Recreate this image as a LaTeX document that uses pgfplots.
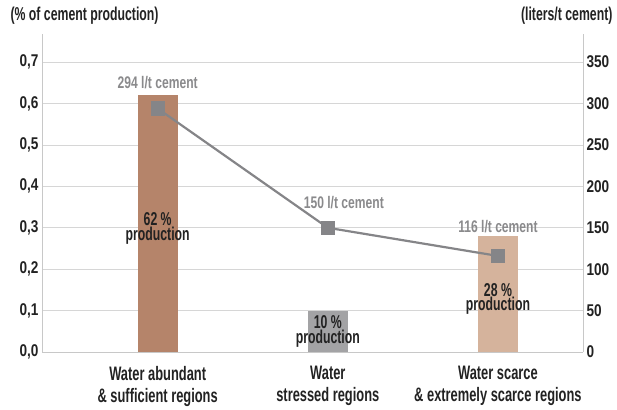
\documentclass[border=0pt]{standalone}
\usepackage{fontspec}
\setmainfont{Liberation Sans}[FakeStretch=0.66]
\newfontfamily\tickfont{Liberation Sans}[FakeStretch=0.8]
\newfontfamily\lblfont{Liberation Sans}[FakeStretch=0.72]
\usepackage{pgfplots}
\pgfplotsset{compat=1.18}
\definecolor{barA}{HTML}{B5846A}
\definecolor{barB}{HTML}{A3A3A5}
\definecolor{barC}{HTML}{D5B39C}
\definecolor{lineG}{HTML}{858588}
\definecolor{gridG}{HTML}{D6D6D6}
\definecolor{axisG}{HTML}{C8C8C8}
\definecolor{txt}{HTML}{222222}
\definecolor{lbl}{HTML}{8A8A8C}

\pgfplotsset{
  common/.style={
    at={(42pt,-352pt)}, anchor=south west,
    scale only axis, width=541pt, height=318pt,
    xmin=-0.68, xmax=2.5,
    axis line style={axisG, line width=1pt},
    major tick length=0pt,
    tick label style={font=\tickfont\fontsize{17}{20}\selectfont\bfseries, text=txt},
    /pgf/number format/assume math mode=true,
  }
}

\begin{document}
\begin{tikzpicture}
\path[use as bounding box] (0pt,0pt) rectangle (617pt,-409pt);

\begin{axis}[common,
  ymin=0, ymax=0.768,
  axis x line*=bottom, axis y line*=left,
  ytick={0,0.1,...,0.7},
  yticklabel style={/pgf/number format/.cd, fixed, fixed zerofill, precision=1, use comma},
  ymajorgrids, grid style={gridG, line width=0.8pt},
  xtick={0,1,2},
  xticklabels={{Water abundant\\\& sufficient regions},{Water\\stressed regions},{Water scarce\\\& extremely scarce regions}},
  xticklabel style={align=center, yshift=-11pt, font=\fontsize{19.5}{21.5}\selectfont\bfseries},
  ybar, bar width=40pt,
]
\addplot[fill=barA, draw=none, bar shift=0pt] coordinates {(0,0.62)};
\addplot[fill=barB, draw=none, bar shift=0pt] coordinates {(1,0.10)};
\addplot[fill=barC, draw=none, bar shift=0pt] coordinates {(2,0.28)};
\node[align=center, text=txt, font=\fontsize{18.6}{14.5}\selectfont\bfseries] at (axis cs:0,0.299) {62 \%\\production};
\node[align=center, text=txt, font=\fontsize{18.6}{14.5}\selectfont\bfseries] at (axis cs:1,0.05) {10 \%\\production};
\node[align=center, text=txt, font=\fontsize{18.6}{14.5}\selectfont\bfseries] at (axis cs:2,0.128) {28 \%\\production};
\end{axis}

\begin{axis}[common,
  ymin=0, ymax=384,
  axis x line=none, axis y line*=right,
  ytick={0,50,...,350},
  yticklabel style={/pgf/number format/.cd, fixed},
]
\addplot[color=lineG, line width=2.2pt, mark=square*, mark size=6pt] coordinates {(0,294) (1,150) (2,116)};
\node[text=lbl, font=\lblfont\fontsize{16.8}{18}\selectfont\bfseries] at (axis cs:0,325) {294 l/t cement};
\node[text=lbl, font=\lblfont\fontsize{16.8}{18}\selectfont\bfseries] at (axis cs:1.094,181) {150 l/t cement};
\node[text=lbl, font=\lblfont\fontsize{16.8}{18}\selectfont\bfseries] at (axis cs:2.0,151) {116 l/t cement};
\end{axis}

\node[anchor=west, text=txt, font=\fontsize{18.6}{20}\selectfont\bfseries] at (7pt,-16pt) {(\% of cement production)};
\node[anchor=east, text=txt, font=\fontsize{18.6}{20}\selectfont\bfseries] at (616pt,-16pt) {(liters/t cement)};
\end{tikzpicture}
\end{document}
